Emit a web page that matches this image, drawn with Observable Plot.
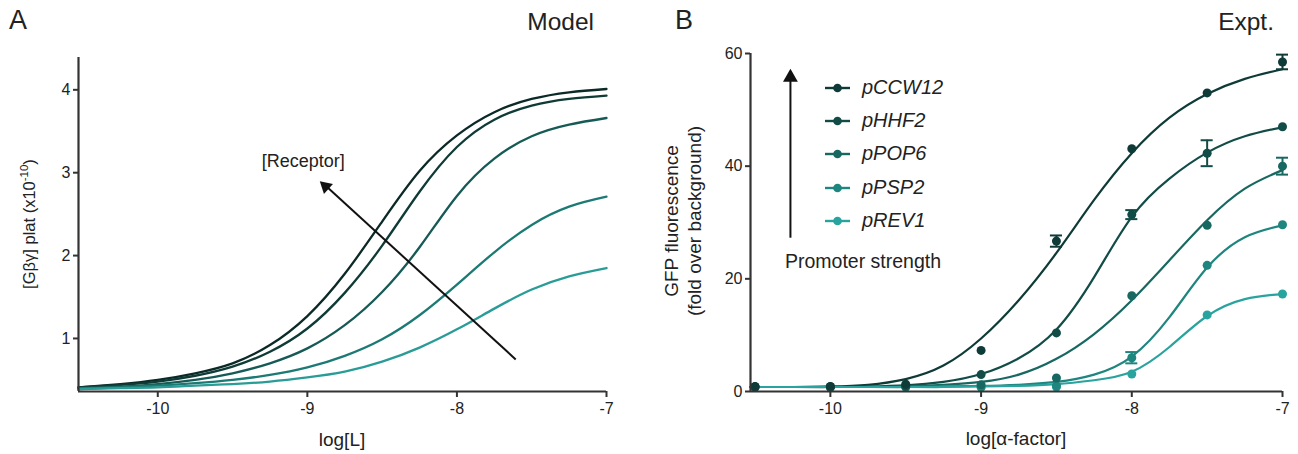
<!DOCTYPE html>
<html>
<head>
<meta charset="utf-8">
<script src="https://cdn.jsdelivr.net/npm/d3@7"></script>
<script src="https://cdn.jsdelivr.net/npm/@observablehq/plot@0.6"></script>
<style>
  html, body { margin: 0; padding: 0; background: #fff; }
  body { font-family: "Liberation Sans", Arial, Helvetica, sans-serif; color: #222; }
  #wrap { position: relative; width: 1298px; height: 454px; overflow: hidden; }
  .abs { position: absolute; white-space: nowrap; }
  .panel { position: absolute; top: 0; }
  .rot { position: absolute; transform: translate(-50%, -50%) rotate(-90deg); white-space: nowrap; text-align: center; line-height: 1.2; }
</style>
</head>
<body>
<div id="wrap">
  <div id="panelA" class="panel" style="left:0"></div>
  <div id="panelB" class="panel" style="left:649px"></div>
</div>
<script>
// ---------- Panel A: model ----------
const modelX = [-10.53, -10.25, -10, -9.75, -9.5, -9.25, -9, -8.75, -8.5, -8.25, -8, -7.75, -7.5, -7.25, -7];
const receptorLevels = ["R1", "R2", "R3", "R4", "R5"];
const modelR1 = [0.41, 0.45, 0.50, 0.58, 0.70, 0.92, 1.27, 1.78, 2.41, 3.02, 3.45, 3.73, 3.89, 3.97, 4.01];
const modelR2 = [0.41, 0.44, 0.48, 0.55, 0.66, 0.84, 1.12, 1.55, 2.12, 2.77, 3.31, 3.64, 3.81, 3.89, 3.93];
const modelR3 = [0.40, 0.42, 0.45, 0.50, 0.58, 0.70, 0.88, 1.16, 1.56, 2.10, 2.72, 3.17, 3.44, 3.58, 3.66];
const modelR4 = [0.39, 0.41, 0.43, 0.46, 0.50, 0.56, 0.65, 0.79, 0.99, 1.28, 1.65, 2.04, 2.37, 2.59, 2.71];
const modelR5 = [0.39, 0.40, 0.41, 0.43, 0.45, 0.48, 0.53, 0.60, 0.72, 0.89, 1.11, 1.36, 1.59, 1.75, 1.85];
const modelColors = ["#0b2a27", "#0f3b37", "#165a55", "#1c7a74", "#2a9c97"];
const modelXTicks = [-10, -9, -8, -7];
const modelYTicks = [1, 2, 3, 4];

// ---------- Panel B: experiment ----------
const promoters = ["pCCW12", "pHHF2", "pPOP6", "pPSP2", "pREV1"];
const promoterColors = ["#0e3b37", "#124c47", "#186862", "#1f857f", "#29a39e"];
const doses = [-10.5, -10, -9.5, -9, -8.5, -8, -7.5, -7];
const ptCCW12 = [0.9, 0.9, 1.3, 7.3, 26.7, 43.1, 53.0, 58.5];
const ptHHF2  = [0.8, 0.8, 1.0, 3.0, 10.4, 31.4, 42.3, 47.0];
const ptPOP6  = [0.8, 0.8, 0.9, 1.2, 2.4, 17.0, 29.5, 40.0];
const ptPSP2  = [0.8, 0.8, 0.8, 0.8, 1.0, 6.0, 22.4, 29.6];
const ptREV1  = [0.8, 0.8, 0.8, 0.8, 0.8, 3.1, 13.6, 17.3];
const fitX = [-10.53, -10.25, -10, -9.75, -9.5, -9.25, -9, -8.75, -8.5, -8.25, -8, -7.75, -7.5, -7.25, -7];
const fitCCW12 = [0.8, 0.8, 0.9, 1.2, 2.2, 4.6, 9.4, 16.2, 24.6, 34.0, 42.3, 48.6, 52.8, 55.5, 57.2];
const fitHHF2  = [0.8, 0.8, 0.8, 0.9, 1.1, 1.7, 3.1, 5.9, 11.0, 20.3, 31.0, 37.8, 42.4, 45.3, 46.9];
const fitPOP6  = [0.8, 0.8, 0.8, 0.8, 0.9, 1.2, 1.7, 3.0, 5.8, 10.2, 16.2, 23.3, 30.4, 36.0, 39.3];
const fitPSP2  = [0.8, 0.8, 0.8, 0.8, 0.8, 0.9, 1.0, 1.2, 1.7, 3.0, 6.2, 13.2, 22.0, 27.4, 29.5];
const fitREV1  = [0.8, 0.8, 0.8, 0.8, 0.8, 0.8, 0.9, 1.0, 1.3, 2.0, 3.5, 7.9, 13.4, 16.4, 17.3];
const errSeries = ["pCCW12", "pCCW12", "pHHF2", "pHHF2", "pPOP6", "pPSP2"];
const errX      = [-7, -8.5, -7.5, -8, -7, -8];
const errMean   = [58.5, 26.7, 42.3, 31.4, 40.0, 6.0];
const errSD     = [1.3, 1.0, 2.3, 0.8, 1.5, 1.0];
const exptXTicks = [-10, -9, -8, -7];
const exptYTicks = [0, 20, 40, 60];

// ---------- build tables ----------
const modelSeries = [modelR1, modelR2, modelR3, modelR4, modelR5];
const modelRows = modelSeries.flatMap((vals, i) => vals.map((v, j) => ({series: receptorLevels[i], x: modelX[j], y: v})));
const ptSeries = [ptCCW12, ptHHF2, ptPOP6, ptPSP2, ptREV1];
const fitSeries = [fitCCW12, fitHHF2, fitPOP6, fitPSP2, fitREV1];
const ptRows = ptSeries.flatMap((vals, i) => vals.map((v, j) => ({series: promoters[i], x: doses[j], y: v}))).reverse();
const fitRows = fitSeries.flatMap((vals, i) => vals.map((v, j) => ({series: promoters[i], x: fitX[j], y: v})));
const errRows = errSeries.map((s, i) => ({series: s, x: errX[i], lo: errMean[i] - errSD[i], hi: errMean[i] + errSD[i]}));
const capHalf = 0.04;

const fontFamily = '"Liberation Sans", Arial, Helvetica, sans-serif';
const fmt = d => String(d);

// ---------- Panel A ----------
const xDomA = [-10.53, -7], yDomA = [0.36, 4.39];
const plotA = Plot.plot({
  width: 649, height: 454,
  marginLeft: 78, marginRight: 43, marginTop: 57, marginBottom: 63,
  x: {domain: xDomA},
  y: {domain: yDomA},
  color: {domain: receptorLevels, range: modelColors},
  style: {fontFamily, fontSize: "16px", color: "#222", background: "transparent", overflow: "visible"},
  marks: [
    Plot.line(modelRows, {x: "x", y: "y", z: "series", stroke: "series", strokeWidth: 2.3, curve: "natural"}),
    Plot.link([{x1: -7.607, y1: 0.747, x2: -8.87, y2: 2.83}], {x1: "x1", y1: "y1", x2: "x2", y2: "y2", stroke: "#111", strokeWidth: 2}),
    Plot.dot([{x: -8.913, y: 2.89}], {x: "x", y: "y", symbol: "triangle", r: 5, fill: "#111", rotate: -48, dx: 5.2, dy: 4.7}),
    Plot.text(["[Receptor]"], {x: -9.027, y: 3.14, text: d => d, fontSize: 18, fill: "#222"}),
    Plot.ruleY([yDomA[0]], {stroke: "#333", strokeWidth: 2.2}),
    Plot.ruleX([xDomA[0]], {stroke: "#333", strokeWidth: 2.2}),
    Plot.axisX(modelXTicks, {tickSize: 6, tickPadding: 5, strokeWidth: 2, stroke: "#333", tickFormat: fmt, label: null}),
    Plot.axisY(modelYTicks, {tickSize: 5, tickPadding: 3, strokeWidth: 2, stroke: "#333", tickFormat: fmt, label: null})
  ]
});
document.getElementById("panelA").appendChild(plotA);

// ---------- Panel B ----------
const xDomB = [-10.53, -7], yDomB = [0, 60];
const plotB = Plot.plot({
  width: 649, height: 454,
  marginLeft: 101, marginRight: 16, marginTop: 53, marginBottom: 63,
  x: {domain: xDomB},
  y: {domain: yDomB},
  color: {domain: promoters, range: promoterColors},
  style: {fontFamily, fontSize: "16px", color: "#222", background: "transparent", overflow: "visible"},
  marks: [
    Plot.line(fitRows, {x: "x", y: "y", z: "series", stroke: "series", strokeWidth: 2.2, curve: "natural"}),
    Plot.ruleX(errRows, {x: "x", y1: "lo", y2: "hi", stroke: "series", strokeWidth: 2}),
    Plot.ruleY(errRows, {y: "lo", x1: d => d.x - capHalf, x2: d => d.x + capHalf, stroke: "series", strokeWidth: 2}),
    Plot.ruleY(errRows, {y: "hi", x1: d => d.x - capHalf, x2: d => d.x + capHalf, stroke: "series", strokeWidth: 2}),
    Plot.dot(ptRows, {x: "x", y: "y", fill: "series", r: 4.5}),
    Plot.link([{x1: -10.265, y1: 27.3, x2: -10.265, y2: 55.5}], {x1: "x1", y1: "y1", x2: "x2", y2: "y2", stroke: "#111", strokeWidth: 2}),
    Plot.dot([{x: -10.265, y: 57}], {x: "x", y: "y", symbol: "triangle", r: 5.5, fill: "#111", dy: 7}),
    Plot.ruleY([0], {stroke: "#333", strokeWidth: 2.2}),
    Plot.ruleX([xDomB[0]], {stroke: "#333", strokeWidth: 2.2}),
    Plot.axisX(exptXTicks, {tickSize: 6, tickPadding: 5, strokeWidth: 2, stroke: "#333", tickFormat: fmt, label: null}),
    Plot.axisY(exptYTicks, {tickSize: 5, tickPadding: 3, strokeWidth: 2, stroke: "#333", tickFormat: fmt, label: null})
  ]
});
document.getElementById("panelB").appendChild(plotB);

// ---------- text overlays ----------
const wrap = document.getElementById("wrap");
function addText(html, css, cls = "abs") {
  const el = document.createElement("div");
  el.className = cls;
  el.innerHTML = html;
  Object.assign(el.style, css);
  wrap.appendChild(el);
  return el;
}
addText("A", {left: "9px", top: "5px", fontSize: "27px"});
addText("B", {left: "675px", top: "5px", fontSize: "27px"});
addText("Model", {right: (1298 - 594) + "px", top: "8px", fontSize: "24.5px"});
addText("Expt.", {right: (1298 - 1274) + "px", top: "8px", fontSize: "24.5px"});
addText("log[L]", {left: "342px", top: "440px", fontSize: "19px", transform: "translate(-50%,-50%)"});
addText("log[α-factor]", {left: "1016px", top: "439px", fontSize: "19px", transform: "translate(-50%,-50%)"});
addText("[Gβγ] plat (x10<sup style='font-size:11.5px;vertical-align:7px;line-height:0'>-10</sup>)", {left: "30px", top: "224px", fontSize: "16.5px"}, "rot");
addText("GFP fluorescence<br>(fold over background)", {left: "684px", top: "221px", fontSize: "19px"}, "rot");
addText("Promoter strength", {left: "785px", top: "250px", fontSize: "19.5px"});

// legend
const legendTop = [88, 121, 154, 188, 221];
promoters.forEach((name, i) => {
  const y = legendTop[i];
  const svg = `<svg width="28" height="12" style="position:absolute;left:0;top:0"><line x1="1" y1="6" x2="26" y2="6" stroke="${promoterColors[i]}" stroke-width="2.4"/><circle cx="13.5" cy="6" r="4.3" fill="${promoterColors[i]}"/></svg>`;
  addText(svg, {left: "824px", top: (y - 6) + "px", width: "28px", height: "12px"});
  addText(name, {left: "862px", top: (y - 12) + "px", fontSize: "20px", fontStyle: "italic", color: "#222"});
});
</script>
</body>
</html>
